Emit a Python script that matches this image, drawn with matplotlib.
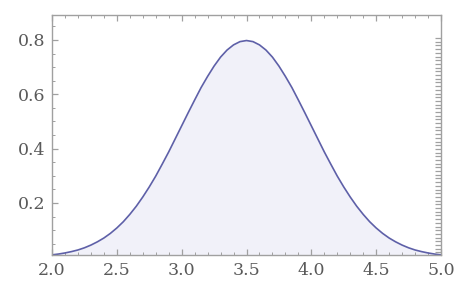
import matplotlib
matplotlib.use("Agg")
import matplotlib.pyplot as plt
import numpy as np
from matplotlib.ticker import MultipleLocator, FixedLocator

# Values (density curve), x step 0.05 from 2.0 to 5.0
x_vals = [2.00, 2.05, 2.10, 2.15, 2.20, 2.25, 2.30, 2.35, 2.40, 2.45,
          2.50, 2.55, 2.60, 2.65, 2.70, 2.75, 2.80, 2.85, 2.90, 2.95,
          3.00, 3.05, 3.10, 3.15, 3.20, 3.25, 3.30, 3.35, 3.40, 3.45,
          3.50, 3.55, 3.60, 3.65, 3.70, 3.75, 3.80, 3.85, 3.90, 3.95,
          4.00, 4.05, 4.10, 4.15, 4.20, 4.25, 4.30, 4.35, 4.40, 4.45,
          4.50, 4.55, 4.60, 4.65, 4.70, 4.75, 4.80, 4.85, 4.90, 4.95, 5.00]
y_vals = [0.009, 0.012, 0.016, 0.021, 0.027, 0.035, 0.045, 0.057, 0.071, 0.088,
          0.108, 0.131, 0.158, 0.188, 0.222, 0.259, 0.299, 0.343, 0.388, 0.436,
          0.484, 0.532, 0.579, 0.625, 0.666, 0.704, 0.737, 0.763, 0.782, 0.794,
          0.798, 0.794, 0.782, 0.763, 0.737, 0.704, 0.666, 0.625, 0.579, 0.532,
          0.484, 0.436, 0.388, 0.343, 0.299, 0.259, 0.222, 0.188, 0.158, 0.131,
          0.108, 0.088, 0.071, 0.057, 0.045, 0.035, 0.027, 0.021, 0.016, 0.012, 0.009]
x_ticks = [2.0, 2.5, 3.0, 3.5, 4.0, 4.5, 5.0]
y_ticks = [0.2, 0.4, 0.6, 0.8]

W, H = 468, 296
fig = plt.figure(figsize=(W / 100, H / 100), dpi=100)
ax = fig.add_axes([52 / W, 1 - 255 / H, (441 - 52) / W, (255 - 15) / H])

line_c = "#5e60a8"
ax.fill_between(x_vals, y_vals, 0.0085, color="#f1f1f9", lw=0)
ax.plot(x_vals, y_vals, color=line_c, lw=1.2)

ax.set_xlim(2.0, 5.0)
ax.set_ylim(0.0085, 0.892)

ax.xaxis.set_major_locator(FixedLocator(x_ticks))
ax.yaxis.set_major_locator(FixedLocator(y_ticks))
ax.xaxis.set_minor_locator(MultipleLocator(0.1))
ax.yaxis.set_minor_locator(MultipleLocator(0.05))
ax.set_xticklabels([f"{t:.1f}" for t in x_ticks])
ax.set_yticklabels([f"{t:.1f}" for t in y_ticks])

frame_c = "#a0a0a0"
for s in ax.spines.values():
    s.set_color(frame_c)
    s.set_linewidth(1.0)

ax.tick_params(which="both", direction="in", color=frame_c, top=True, right=False,
               labelcolor="#5a5a5a", labelsize=12.5)
ax.tick_params(which="major", length=4, width=0.9, pad=5)
ax.tick_params(which="minor", length=2, width=0.7)
for lbl in ax.get_xticklabels() + ax.get_yticklabels():
    lbl.set_family("DejaVu Serif")

# dense ticks on the right frame edge
ax2 = ax.twinx()
ax2.set_ylim(ax.get_ylim())
ax2.yaxis.set_major_locator(FixedLocator(list(np.arange(0.807, 0.0085, -0.0136))))
ax2.yaxis.set_minor_locator(FixedLocator([]))
ax2.tick_params(axis="y", direction="in", color=frame_c, length=4, width=0.9,
                labelright=False)
for s in ax2.spines.values():
    s.set_visible(False)

fig.savefig("out.png", dpi=100)
